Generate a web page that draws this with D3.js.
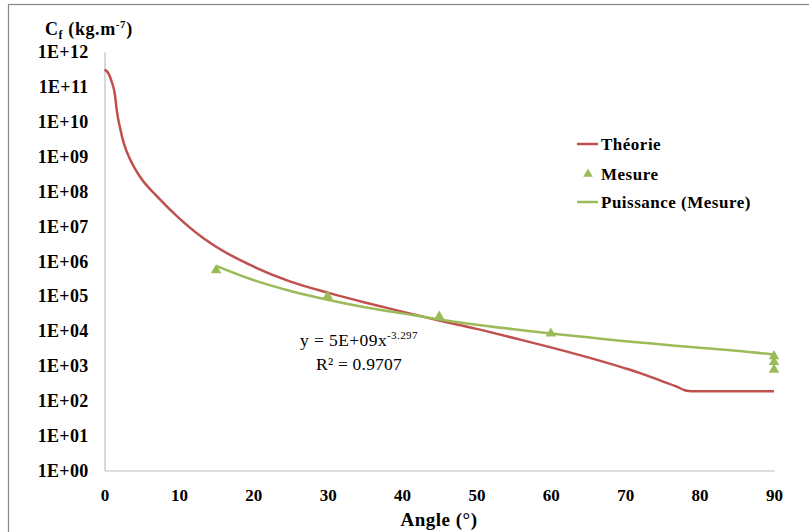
<!DOCTYPE html>
<html><head><meta charset="utf-8">
<script src="https://cdn.jsdelivr.net/npm/d3@7"></script>
<style>
html,body{margin:0;padding:0;background:#fff;}
svg{display:block;}
svg text{font-family:"Liberation Serif","DejaVu Serif","Times New Roman",Times,serif !important;fill:#000;}
svg text.bold{font-weight:bold;}
</style></head>
<body>
<svg id="chart" width="809" height="532"></svg>
<script>
// ---- data ----
const theoryAngle = [0, 0.5, 1.0, 1.35, 1.7, 2.15, 2.6, 3.5, 4.8, 7.1, 9.8, 13.4, 15, 20, 25, 30, 35, 40, 45, 50, 55, 60, 65, 70, 72, 75, 77, 78, 78.6, 79, 90];
const theoryValue = [3.1e11, 2.5e11, 1.35e11, 7.0e10, 1.8e10, 5.8e9, 2.4e9, 7.9e8, 2.6e8, 7.1e7, 1.9e7, 4.4e6, 2.6e6, 7.1e5, 2.6e5, 1.26e5, 6.6e4, 3.6e4, 2.0e4, 1.15e4, 6.3e3, 3.4e3, 1.75e3, 8.5e2, 6.2e2, 3.6e2, 2.5e2, 2.0e2, 1.9e2, 1.86e2, 1.86e2];
const mesureAngle = [15, 30, 45, 60, 90, 90, 90];
const mesureValue = [5.5e5, 1.0e5, 2.6e4, 8.5e3, 1.9e3, 1.3e3, 7.8e2];
const fitAngle = [15, 20, 25, 30, 35, 40, 45, 50, 55, 60, 65, 70, 75, 80, 85, 90];
const fitValue = [7.4e5, 2.9e5, 1.41e5, 7.9e4, 4.8e4, 3.2e4, 2.14e4, 1.51e4, 1.12e4, 8.5e3, 6.6e3, 5.1e3, 4.1e3, 3.3e3, 2.7e3, 2.1e3];
const xTicks = [0, 10, 20, 30, 40, 50, 60, 70, 80, 90];
const yTicks = [1e0, 1e1, 1e2, 1e3, 1e4, 1e5, 1e6, 1e7, 1e8, 1e9, 1e10, 1e11, 1e12];
const yTickLabels = ["1E+00","1E+01","1E+02","1E+03","1E+04","1E+05","1E+06","1E+07","1E+08","1E+09","1E+10","1E+11","1E+12"];
const legendLabels = ["Théorie", "Mesure", "Puissance (Mesure)"];
const xTitle = "Angle (°)";
const eqLine1 = ["y = 5E+09x", "-3.297"];
const eqLine2 = "R² = 0.9707";

// ---- layout ----
const RED = "#c0504d", GREEN = "#9bbb59", AXIS = "#bfbfbf";
const svg = d3.select("#chart");
const x = d3.scaleLinear().domain([0, 90]).range([104.5, 774]);
const y = d3.scaleLog().domain([1, 1e12]).range([470.5, 52]);

// outer frame (only top/left edges inside the window)
svg.append("rect").attr("x", 8.5).attr("y", 4.5).attr("width", 900).attr("height", 600)
  .attr("fill", "none").attr("stroke", "#888").attr("stroke-width", 1.2);

// axes
const yAxis = d3.axisLeft(y).tickValues(yTicks)
  .tickFormat((d, i) => yTickLabels[i]).tickSize(0).tickPadding(16);
const gy = svg.append("g").attr("transform", "translate(104.5,0)").call(yAxis);
gy.select(".domain").attr("stroke", AXIS).attr("stroke-width", 1.2);
gy.selectAll("text").attr("class", "bold").attr("font-size", 18).attr("letter-spacing", 0.3);

const xAxis = d3.axisBottom(x).tickValues(xTicks).tickFormat(d3.format("d")).tickSize(0).tickPadding(18);
const gx = svg.append("g").attr("transform", "translate(0,470.5)").call(xAxis);
gx.select(".domain").attr("stroke", AXIS).attr("stroke-width", 1.2);
gx.selectAll("text").attr("class", "bold").attr("font-size", 17);

// axis titles
svg.append("text").attr("class", "bold").attr("x", 439).attr("y", 526).attr("text-anchor", "middle")
  .attr("font-size", 19).attr("letter-spacing", 0.5).text(xTitle);

const yt = svg.append("text").attr("class", "bold").attr("x", 45).attr("y", 35)
  .attr("font-size", 18).attr("letter-spacing", 0.6);
yt.append("tspan").text("C");
yt.append("tspan").attr("font-size", 12).attr("dy", 4).text("f");
yt.append("tspan").attr("dy", -4).text(" (kg.m");
yt.append("tspan").attr("font-size", 11).attr("dy", -7).text("-7");
yt.append("tspan").attr("dy", 7).text(")");

// theory line
const theory = theoryAngle.map((a, i) => [a, theoryValue[i]]);
svg.append("path").datum(theory)
  .attr("d", d3.line().x(d => x(d[0])).y(d => y(d[1])).curve(d3.curveMonotoneX))
  .attr("fill", "none").attr("stroke", RED).attr("stroke-width", 2.5);

// power fit line
const fit = fitAngle.map((a, i) => [a, fitValue[i]]);
svg.append("path").datum(fit)
  .attr("d", d3.line().x(d => x(d[0])).y(d => y(d[1])).curve(d3.curveCatmullRom))
  .attr("fill", "none").attr("stroke", GREEN).attr("stroke-width", 2.5);

// measurement markers
const tri = d3.symbol().type(d3.symbolTriangle).size(48);
svg.selectAll(".mes").data(mesureAngle.map((a, i) => [a, mesureValue[i]])).join("path")
  .attr("class", "mes")
  .attr("transform", d => `translate(${x(d[0])},${y(d[1])})`)
  .attr("d", tri).attr("fill", GREEN);

// equation
const eq = svg.append("text").attr("x", 359).attr("y", 346).attr("text-anchor", "middle")
  .attr("font-size", 17.5).attr("letter-spacing", 0.4);
eq.append("tspan").text(eqLine1[0]);
eq.append("tspan").attr("font-size", 11).attr("dy", -7).text(eqLine1[1]);
svg.append("text").attr("x", 359).attr("y", 370).attr("text-anchor", "middle")
  .attr("font-size", 17.5).attr("letter-spacing", 0.2).text(eqLine2);

// legend
const lg = svg.append("g");
const ly = [144, 174, 202];
lg.append("line").attr("x1", 577).attr("x2", 598).attr("y1", ly[0]).attr("y2", ly[0]).attr("stroke", RED).attr("stroke-width", 2.5);
lg.append("path").attr("transform", `translate(588,${ly[1]})`).attr("d", d3.symbol().type(d3.symbolTriangle).size(40)).attr("fill", GREEN);
lg.append("line").attr("x1", 577).attr("x2", 598).attr("y1", ly[2]).attr("y2", ly[2]).attr("stroke", GREEN).attr("stroke-width", 2.5);
legendLabels.forEach((t, i) => {
  lg.append("text").attr("class", "bold").attr("x", 601).attr("y", ly[i] + 5.5)
    .attr("font-size", 17).attr("letter-spacing", 0.5).text(t);
});
</script>
</body></html>
